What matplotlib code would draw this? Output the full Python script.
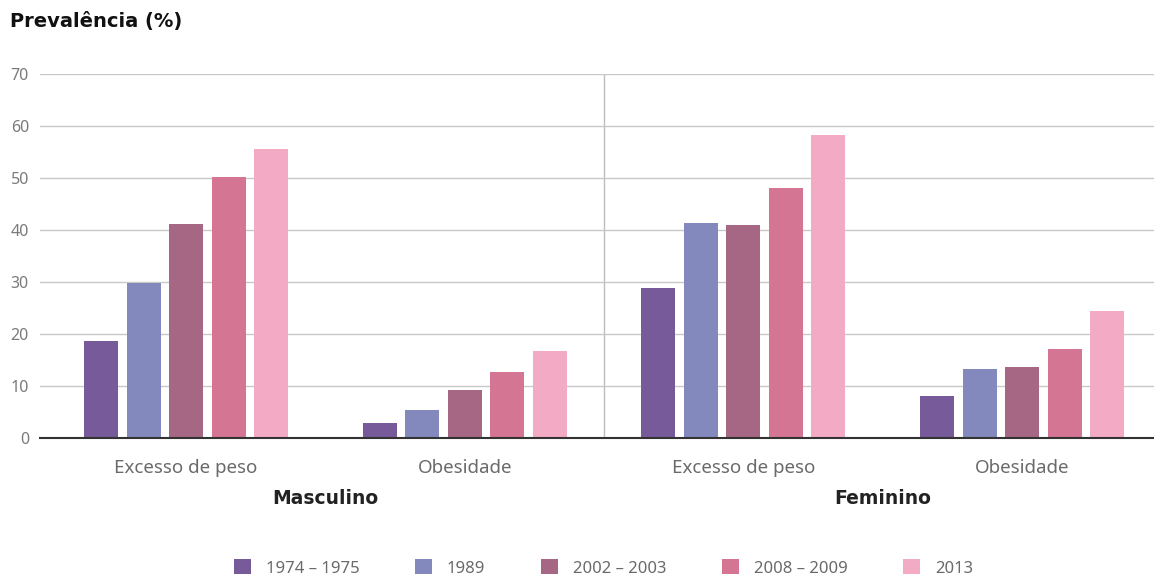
import numpy as np
import matplotlib
matplotlib.use("Agg")
import matplotlib.pyplot as plt

plt.rcParams['font.family'] = ['Noto Sans', 'DejaVu Sans']

# data
groups = ['Excesso de peso', 'Obesidade', 'Excesso de peso', 'Obesidade']
sexes = ['Masculino', 'Feminino']
years = ['1974 – 1975', '1989', '2002 – 2003', '2008 – 2009', '2013']
values = [
    [18.6, 2.8, 28.8, 8.0],     # 1974-1975
    [29.9, 5.4, 41.3, 13.3],    # 1989
    [41.2, 9.2, 40.9, 13.7],    # 2002-2003
    [50.1, 12.6, 48.1, 17.1],   # 2008-2009
    [55.6, 16.7, 58.3, 24.4],   # 2013
]
colors = ['#765A9A', '#8489BD', '#A66784', '#D47594', '#F3AAC5']
yticks = [0, 10, 20, 30, 40, 50, 60, 70]

fig = plt.figure(figsize=(11.54, 5.77), dpi=100)
ax = fig.add_axes([40 / 1154, 139 / 577, 1114 / 1154, 364 / 577])

x = np.arange(len(groups))
step = 0.1525
width = 0.122
for i, (yr, vals) in enumerate(zip(years, values)):
    ax.bar(x + (i - 2) * step, vals, width, color=colors[i], label=yr, zorder=3)

ax.set_xlim(-0.524, 3.473)
ax.set_ylim(0, 70)
ax.set_yticks(yticks)
ax.grid(axis='y', color='#c8c8c8', linewidth=1, zorder=0)
ax.axvline(1.5, color='#bdbdbd', linewidth=1, zorder=1)

for s in ['top', 'right', 'left']:
    ax.spines[s].set_visible(False)
ax.spines['bottom'].set_color('#333333')
ax.spines['bottom'].set_linewidth(1.5)
ax.spines['bottom'].set_zorder(4)

ax.set_xticks(x)
ax.set_xticklabels(groups, fontsize=13.5, color='#6a6a6a')
ax.tick_params(axis='x', length=0, pad=15)
ax.tick_params(axis='y', length=0, pad=8, labelsize=11.5, labelcolor='#7a7a7a')

for j, sx in enumerate(sexes):
    ax.text(2 * j + 0.5, -11.6, sx, ha='center', va='center', fontsize=13.5,
            fontweight='bold', color='#222222', family='DejaVu Sans')

fig.text(10 / 1154, 1 - 22 / 577, 'Prevalência (%)', ha='left', va='center',
         fontsize=14, fontweight='bold', color='#111111', family='DejaVu Sans')

leg = fig.legend(loc='center', bbox_to_anchor=(0.523, 1 - 568 / 577), ncol=5,
                 frameon=False, fontsize=12, handlelength=1.0, handleheight=1.0,
                 handletextpad=0.9, columnspacing=3.35)
for t in leg.get_texts():
    t.set_color('#6a6a6a')

fig.savefig('out.png', dpi=100)
